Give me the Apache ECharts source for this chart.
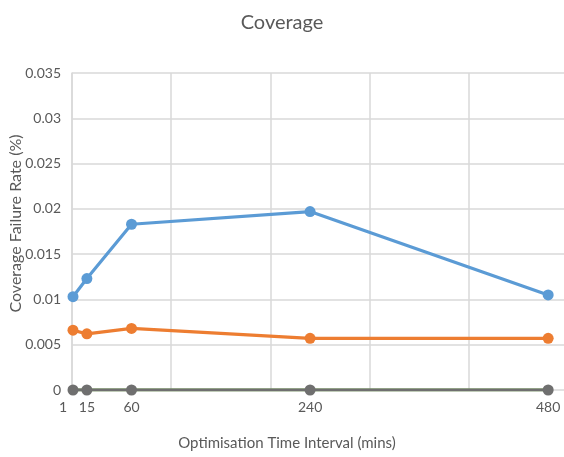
<!DOCTYPE html>
<html><head><meta charset="utf-8">
<script src="https://cdn.jsdelivr.net/npm/echarts@6/dist/echarts.min.js"></script>
<style>html,body{margin:0;padding:0;background:#fff}#c{width:564px;height:457px}</style>
</head><body><div id="c"></div>
<script>
var intervals = [1, 15, 60, 240, 480];
var seriesBlue = [0.0103, 0.0123, 0.0183, 0.0197, 0.0105];
var seriesOrange = [0.0066, 0.0062, 0.0068, 0.0057, 0.0057];
var seriesGreen = [0, 0, 0, 0, 0];
var seriesGray = [0, 0, 0, 0, 0];
var xTickLabels = [1, 15, 60, 240, 480];

function pairs(v){ return intervals.map(function(x,i){ return [x, v[i]]; }); }
var FONT = 'Lato';
var chart = echarts.init(document.getElementById('c'), null, {renderer:'canvas'});
function mk(name, data, color, z, sym){
  return {name:name, type:'line', data:pairs(data), xAxisIndex:0, z:z,
    symbol:'circle', symbolSize: sym ? 11 : 0, showSymbol: !!sym,
    lineStyle:{color:color, width:3.2}, itemStyle:{color:color}, animation:false};
}
chart.setOption({
  animation:false,
  textStyle:{fontFamily:FONT},
  title:{text:'Coverage', left:'center', top:8, textStyle:{fontFamily:FONT, fontSize:20, fontWeight:'normal', color:'#595959'}},
  grid:{left:72, right:-4, top:73, bottom:67, containLabel:false, outerBoundsMode:'none'},
  xAxis:[{
    type:'value', min:0, max:500, interval:100,
    name:'Optimisation Time Interval (mins)', nameLocation:'middle', nameGap:46, nameMoveOverlap:false,
    nameTextStyle:{fontFamily:FONT, fontSize:15, color:'#595959', padding:[0,66,0,0]},
    axisLine:{show:false}, axisTick:{show:false},
    axisLabel:{show:false},
    splitLine:{show:true, lineStyle:{color:'#d9d9d9', width:1.5}}
  },{
    type:'value', min:0, max:500, position:'bottom',
    axisLine:{show:false}, axisTick:{show:false}, splitLine:{show:false},
    axisLabel:{customValues:xTickLabels, fontFamily:FONT, fontSize:14, color:'#595959', margin:10,
      formatter:function(v){ return v===1 ? '{a|1}' : String(v); },
      rich:{a:{fontFamily:FONT, fontSize:14, color:'#595959', padding:[0,20,0,0]}}}
  }],
  yAxis:{
    type:'value', min:0, max:0.035, interval:0.005,
    name:'Coverage Failure Rate (%)', nameLocation:'middle', nameGap:48, nameRotate:90, nameMoveOverlap:false,
    nameTextStyle:{fontFamily:FONT, fontSize:16, color:'#595959', padding:[0,0,0,16]},
    axisLine:{show:true, lineStyle:{color:'#d9d9d9', width:1.5}}, axisTick:{show:false},
    axisLabel:{fontFamily:FONT, fontSize:14, color:'#595959', margin:11,
      formatter:function(v){ return v===0 ? '0' : String(+v.toFixed(3)); }},
    splitLine:{show:true, lineStyle:{color:'#d9d9d9', width:1.5}}
  },
  series:[
    mk('Blue', seriesBlue, '#5B9BD5', 5, true),
    mk('Orange', seriesOrange, '#ED7D31', 5, true),
    mk('Green', seriesGreen, '#70AD47', 4, false),
    mk('Gray', seriesGray, '#6f6f6f', 6, true)
  ]
});
</script></body></html>
